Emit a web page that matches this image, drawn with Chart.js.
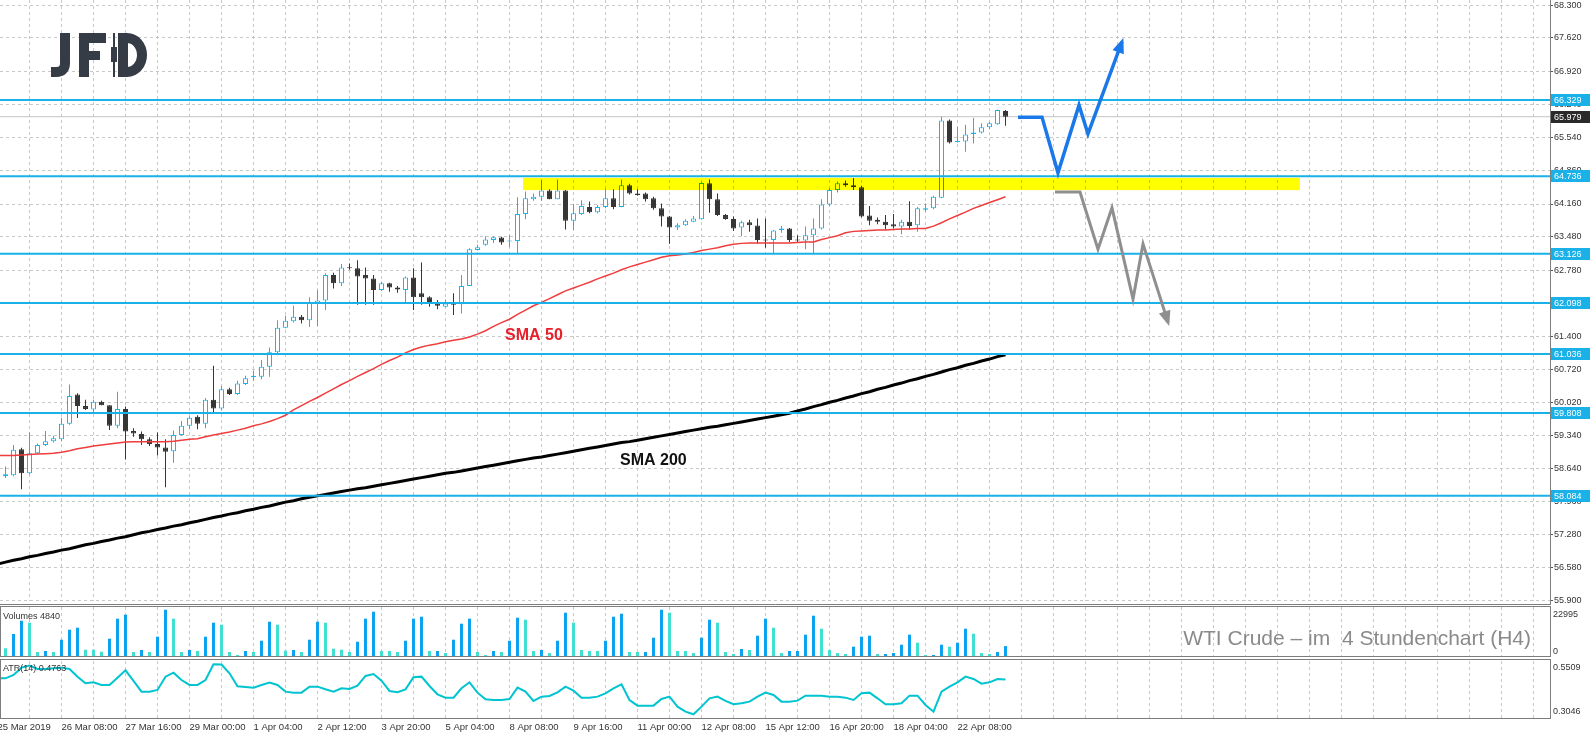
<!DOCTYPE html>
<html>
<head>
<meta charset="utf-8">
<title>WTI Crude H4</title>
<script src="https://cdn.jsdelivr.net/npm/chart.js@4.4.1/dist/chart.umd.min.js"></script>
<style>
  html, body { margin: 0; padding: 0; background: #fff; }
  body { width: 1590px; height: 738px; position: relative; overflow: hidden; }
  canvas { position: absolute; left: 0; }
  #main { top: 0; }
  #vol { top: 605px; }
  #atr { top: 658px; }
</style>
</head>
<body>
<canvas id="main" width="1590" height="605"></canvas>
<canvas id="vol" width="1590" height="53"></canvas>
<canvas id="atr" width="1590" height="80"></canvas>
<script>
// ---- price data (H4 candles, 25 Mar - 22 Apr 2019) ----
const opens = [58.49,58.51,59.05,58.55,58.97,59.14,59.22,59.26,59.58,60.19,
  59.95,59.88,60.04,59.97,59.54,59.89,59.43,59.37,59.26,59.16,
  59.09,59.01,59.35,59.54,59.73,59.58,60.08,59.90,60.30,60.20,
  60.41,60.55,60.56,60.77,61.07,61.58,61.72,61.81,61.74,62.10,
  62.15,62.68,62.51,62.83,62.82,62.68,62.61,62.37,62.51,62.42,
  62.37,62.63,62.30,62.22,62.10,62.02,62.09,62.07,62.45,63.20,
  63.31,63.41,63.46,63.38,63.39,63.95,64.26,64.31,64.44,64.26,
  64.44,63.81,63.95,64.10,63.99,64.10,64.28,64.10,64.55,64.38,
  64.38,64.28,64.07,63.90,63.67,63.72,63.79,63.84,64.59,64.26,
  63.93,63.85,63.67,63.78,63.71,63.42,63.41,63.62,63.65,63.42,
  63.40,63.51,63.65,64.15,64.45,64.59,64.55,64.51,63.92,63.83,
  63.79,63.74,63.69,63.79,63.72,64.04,64.07,64.29,65.90,65.45,
  65.46,65.62,65.65,65.76,65.82,66.10];
const highs = [58.69,59.14,59.08,59.40,59.17,59.43,59.33,59.70,60.40,60.22,
  60.08,60.08,60.06,59.97,60.25,59.94,59.49,59.42,59.30,59.40,
  59.26,59.44,59.64,59.74,59.76,60.12,60.79,60.37,60.33,60.48,
  60.58,60.69,60.91,61.17,61.74,61.83,62.04,61.85,62.22,62.37,
  62.72,62.73,62.91,62.92,62.99,62.84,62.68,62.54,62.52,62.45,
  62.65,62.82,62.94,62.24,62.16,62.17,62.30,62.68,63.24,63.31,
  63.49,63.49,63.48,63.51,64.30,64.42,64.38,64.67,64.47,64.67,
  64.45,64.16,64.24,64.21,64.14,64.47,64.47,64.67,64.58,64.47,
  64.40,64.31,64.17,63.91,63.76,63.84,63.91,64.62,64.67,64.38,
  63.95,63.90,63.81,63.83,63.86,63.86,63.62,63.70,63.66,63.51,
  63.69,63.86,64.26,64.49,64.63,64.65,64.70,64.54,64.12,63.88,
  63.93,63.95,63.83,64.22,64.10,64.17,64.33,65.98,65.92,65.77,
  65.81,65.95,65.84,65.87,66.13,66.12];
const lows = [58.45,58.49,58.22,58.53,58.95,59.12,59.19,59.22,59.56,59.70,
  59.87,59.81,59.97,59.45,59.49,58.84,59.31,59.14,59.12,58.92,
  58.26,58.77,59.33,59.47,59.47,59.49,59.79,59.87,60.18,60.18,
  60.39,60.48,60.51,60.56,61.01,61.57,61.69,61.67,61.60,61.62,
  61.95,62.40,62.45,62.79,62.06,62.06,62.06,62.35,62.33,62.31,
  62.09,61.95,62.06,62.02,61.97,62.01,61.85,61.88,62.45,63.19,
  63.29,63.35,63.31,63.26,63.13,63.84,64.23,64.23,64.26,64.26,
  63.63,63.62,63.93,63.97,63.97,64.07,64.05,64.09,64.36,64.33,
  64.21,64.04,63.69,63.33,63.62,63.70,63.78,63.83,63.98,63.91,
  63.83,63.60,63.49,63.58,63.34,63.25,63.12,63.56,63.37,63.35,
  63.22,63.13,63.63,64.12,64.40,64.52,64.45,63.88,63.72,63.74,
  63.63,63.65,63.53,63.63,63.58,64.00,64.05,64.28,65.42,65.44,
  65.25,65.42,65.63,65.72,65.81,65.79];
const closes = [58.53,59.04,58.55,58.97,59.14,59.22,59.28,59.58,60.16,59.95,
  59.89,60.04,59.97,59.54,59.89,59.42,59.38,59.26,59.16,59.09,
  59.00,59.35,59.54,59.71,59.58,60.08,59.90,60.30,60.20,60.42,
  60.53,60.58,60.77,61.07,61.58,61.73,61.81,61.74,62.10,62.15,
  62.68,62.51,62.84,62.82,62.65,62.61,62.37,62.51,62.42,62.38,
  62.63,62.22,62.22,62.09,62.04,62.09,62.06,62.45,63.22,63.26,
  63.42,63.47,63.36,63.40,63.95,64.28,64.31,64.44,64.26,64.44,
  63.81,63.97,64.12,63.99,64.10,64.28,64.10,64.55,64.38,64.35,
  64.26,64.07,63.90,63.67,63.72,63.81,63.86,64.60,64.26,63.93,
  63.85,63.65,63.78,63.72,63.41,63.40,63.61,63.65,63.41,63.40,
  63.51,63.65,64.15,64.45,64.59,64.55,64.51,63.90,63.81,63.79,
  63.72,63.69,63.79,63.70,64.07,64.07,64.31,65.90,65.44,65.46,
  65.61,65.65,65.76,65.84,66.12,65.979];

// indicator series start one bar earlier (index -1, the bar cut off at the left edge)
const sma50 = [58.92,58.92,58.92,58.93,58.94,58.95,58.96,58.97,58.99,59.02,59.06,
  59.09,59.12,59.14,59.16,59.18,59.20,59.21,59.21,59.21,59.21,
  59.21,59.22,59.24,59.26,59.27,59.31,59.35,59.38,59.41,59.45,
  59.49,59.54,59.58,59.63,59.69,59.76,59.87,59.96,60.05,60.13,
  60.22,60.31,60.40,60.48,60.57,60.65,60.73,60.82,60.90,60.97,
  61.06,61.13,61.18,61.22,61.25,61.29,61.32,61.35,61.39,61.45,
  61.52,61.61,61.69,61.76,61.86,61.95,62.04,62.11,62.19,62.27,
  62.35,62.41,62.47,62.53,62.60,62.66,62.72,62.79,62.85,62.90,
  62.95,63.00,63.05,63.08,63.10,63.12,63.15,63.19,63.22,63.25,
  63.29,63.32,63.34,63.35,63.35,63.35,63.35,63.35,63.35,63.36,
  63.37,63.37,63.42,63.46,63.50,63.56,63.59,63.60,63.61,63.62,
  63.62,63.63,63.64,63.64,63.65,63.65,63.70,63.77,63.85,63.92,
  63.99,64.07,64.13,64.19,64.25,64.31];
const sma200 = [56.66,56.70,56.74,56.77,56.81,56.84,56.88,56.91,56.95,56.98,57.02,
  57.06,57.09,57.13,57.16,57.20,57.23,57.27,57.31,57.34,57.38,
  57.41,57.45,57.48,57.52,57.55,57.59,57.63,57.66,57.70,57.73,
  57.77,57.80,57.84,57.87,57.91,57.95,57.98,58.02,58.05,58.08,
  58.11,58.14,58.17,58.20,58.23,58.25,58.28,58.31,58.34,58.37,
  58.40,58.43,58.46,58.49,58.52,58.55,58.57,58.60,58.63,58.66,
  58.69,58.72,58.75,58.78,58.81,58.84,58.87,58.89,58.92,58.95,
  58.98,59.01,59.04,59.07,59.10,59.13,59.16,59.19,59.21,59.24,
  59.27,59.30,59.33,59.36,59.39,59.42,59.45,59.48,59.51,59.53,
  59.56,59.59,59.62,59.65,59.68,59.71,59.74,59.77,59.80,59.85,
  59.89,59.94,59.98,60.03,60.07,60.12,60.16,60.21,60.25,60.30,
  60.34,60.39,60.43,60.48,60.52,60.57,60.61,60.66,60.71,60.75,
  60.80,60.84,60.89,60.93,60.98,61.02];
const atr = [0.4819,0.4819,0.4984,0.5345,0.5443,0.5279,0.5279,0.5312,0.5345,0.5279,0.4901,
  0.4573,0.4622,0.4491,0.4491,0.4852,0.5213,0.4688,0.4163,0.4163,0.4245,
  0.4901,0.5098,0.4737,0.4491,0.4491,0.4737,0.5509,0.5495,0.5066,0.4425,
  0.4392,0.4360,0.4491,0.4606,0.4491,0.4163,0.4113,0.4113,0.4409,0.4409,
  0.4277,0.4163,0.4327,0.4294,0.4458,0.4934,0.5033,0.4704,0.4195,0.4130,
  0.4277,0.4869,0.4901,0.4442,0.4031,0.3867,0.3867,0.4327,0.4622,0.4113,
  0.3785,0.3752,0.3752,0.3801,0.4360,0.4163,0.3703,0.3916,0.3949,0.4130,
  0.4409,0.4212,0.3867,0.3867,0.3916,0.4080,0.4327,0.4524,0.3752,0.3473,
  0.3473,0.3473,0.3801,0.3916,0.3424,0.3177,0.3046,0.3424,0.3834,0.3916,
  0.3703,0.3539,0.3588,0.3670,0.3916,0.4113,0.3998,0.3670,0.3670,0.3719,
  0.3965,0.3965,0.3965,0.3916,0.3916,0.3867,0.3752,0.4080,0.4113,0.3834,
  0.3539,0.3539,0.3588,0.3965,0.3965,0.3506,0.3177,0.4163,0.4409,0.4622,
  0.4901,0.4787,0.4557,0.4622,0.4787,0.4763];
const indFirst = -1;

const volumes = [3770,10760,17260,16280,1960,2450,1960,7970,12860,13840,
  3080,3050,2100,8460,18240,20200,1960,2930,1960,9440,
  22640,18240,1960,2930,2450,9440,16280,15310,1960,490,
  2450,1960,7480,16770,15310,2590,2930,1960,7970,16770,
  16280,3570,3080,1960,6990,18240,21660,2450,2440,1960,
  7480,18240,19220,2450,2460,1470,7970,15790,18240,1960,
  490,2450,1960,7480,18730,17750,2450,2930,1470,7480,
  21170,16280,2930,2450,2440,7480,19220,20680,1960,1950,
  1970,8950,22640,21170,2450,2440,1470,8950,17750,16280,
  1960,980,3420,2930,9930,18240,13840,1470,2450,2460,
  10420,19710,13350,2930,1470,980,4550,9440,9930,980,
  990,1470,5530,10420,6500,490,500,5530,4550,6500,
  13350,10900,1470,980,1960,4840];

// horizontal support / resistance lines and the bid line
const levels = [66.329, 64.736, 63.126, 62.098, 61.036, 59.808, 58.084];
const lastPrice = 65.979;

// price axis ticks
const priceTicks = [68.300, 67.620, 66.920, 66.240, 65.540, 64.860, 64.160, 63.480, 62.780,
  62.100, 61.400, 60.720, 60.020, 59.340, 58.640, 57.960, 57.280, 56.580, 55.900];

// time axis labels, by candle index
const timeLabelIdx = [-1, 7, 15, 23, 31, 39, 47, 55, 63, 71, 79, 87, 95, 103, 111, 119];
const timeLabels = ['25 Mar 2019', '26 Mar 08:00', '27 Mar 16:00', '29 Mar 00:00', '1 Apr 04:00',
  '2 Apr 12:00', '3 Apr 20:00', '5 Apr 04:00', '8 Apr 08:00', '9 Apr 16:00', '11 Apr 00:00',
  '12 Apr 08:00', '15 Apr 12:00', '16 Apr 20:00', '18 Apr 04:00', '22 Apr 08:00'];

// drawn scenario arrows (candle index, price)
const upArrowX = [126.56, 129.56, 131.56, 134.19, 135.31, 139.56];
const upArrowY = [65.97, 65.97, 64.81, 66.22, 65.62, 67.54];
const downArrowX = [131.19, 134.31, 136.56, 138.31, 140.94, 142.19, 145.31];
const downArrowY = [64.41, 64.41, 63.22, 64.08, 62.18, 63.33, 61.70];

// yellow resistance zone
const zoneX = [64.69, 161.8];
const zoneY = [64.45, 64.705];

const volAxisTop = 22995;

// ---- look ----
const FONT = '"Liberation Sans", Arial, sans-serif';
const GRID = '#c8c8c8';
const FRAME = '#7d7d7d';
const BULL = '#1cb4ea';
const BEAR = '#363636';
const LEVEL = '#1ab0e8';
const VOL_UP = '#0ba3ef';
const VOL_DN = '#3fe0cf';

Chart.defaults.font.family = FONT;

const X_MIN = -0.6875;            // candle i sits at 8*i + 5.5 px
const X_MAX = X_MIN + 1550 / 8;   // 8 px per candle across the plot

const gridIdx = [];
for (let v = -1; v <= 191; v += 4) gridIdx.push(v);
const labelAt = new Map(timeLabelIdx.map((v, k) => [v, timeLabels[k]]));

const idx = closes.map((_, i) => i);
const isUp = idx.map(i => closes[i] >= opens[i]);
const indPoints = arr => arr.map((v, k) => ({ x: indFirst + k, y: v }));

function timeAxis(withLabels) {
  return {
    type: 'linear', min: X_MIN, max: X_MAX, offset: false,
    afterBuildTicks: s => { s.ticks = gridIdx.map(v => ({ value: v })); },
    afterFit: s => { s.height = withLabels ? 20 : 0; s.paddingLeft = 0; s.paddingRight = 0; },
    grid: { offset: false, color: GRID, lineWidth: 1, drawTicks: false },
    border: { display: false, dash: [3, 3] },
    ticks: withLabels
      ? { autoSkip: false, maxRotation: 0, minRotation: 0, align: 'start', padding: 4,
          color: '#333', font: { family: FONT, size: 9.5 }, callback: v => labelAt.get(v) ?? '' }
      : { display: false }
  };
}

function sideAxis(min, max) {
  return {
    position: 'right', min, max,
    afterFit: s => { s.width = 40; s.paddingTop = 0; s.paddingBottom = 0; },
    grid: { display: false },
    border: { display: false },
    ticks: { display: false }
  };
}

function line(data, color, width, order) {
  return { type: 'line', data, borderColor: color, borderWidth: width, pointRadius: 0,
    tension: 0, fill: false, order };
}

function arrowHead(ctx, x0, y0, x1, y1, color) {
  const ang = Math.atan2(y1 - y0, x1 - x0);
  ctx.save();
  ctx.translate(x1, y1);
  ctx.rotate(ang);
  ctx.fillStyle = color;
  ctx.beginPath();
  ctx.moveTo(4, 0);
  ctx.lineTo(-11, -6);
  ctx.lineTo(-11, 6);
  ctx.closePath();
  ctx.fill();
  ctx.restore();
}

function priceBox(ctx, x, py, text, color) {
  const yy = Math.round(py);
  ctx.fillStyle = color;
  ctx.fillRect(x, yy - 6, 39, 12);
  ctx.fillStyle = '#fff';
  ctx.font = '9px ' + FONT;
  ctx.textAlign = 'left';
  ctx.textBaseline = 'middle';
  ctx.fillText(text, x + 3, yy + 0.5);
}

function drawLogo(ctx) {
  ctx.save();
  ctx.fillStyle = ctx.strokeStyle = '#363c46';
  ctx.lineWidth = 10;
  ctx.beginPath();
  ctx.moveTo(65, 33); ctx.lineTo(65, 63);
  ctx.quadraticCurveTo(65, 72, 56, 72); ctx.lineTo(51, 72);
  ctx.stroke();
  ctx.fillRect(79, 33, 10, 44);
  ctx.fillRect(79, 33, 27, 10);
  ctx.fillRect(79, 51, 21, 9);
  ctx.fillRect(113, 33, 2, 44);
  ctx.fillRect(111, 47, 6, 15);
  ctx.beginPath();
  ctx.moveTo(123, 38); ctx.lineTo(127, 38);
  ctx.ellipse(127, 55, 15, 17, 0, -Math.PI / 2, Math.PI / 2);
  ctx.lineTo(123, 72); ctx.closePath();
  ctx.stroke();
  ctx.restore();
}

// ---- main price panel ----
const mainDecor = {
  id: 'mainDecor',
  afterDatasetsDraw(chart) {
    const { ctx, chartArea: a, scales: { x, y } } = chart;
    ctx.save();
    ctx.beginPath();
    ctx.rect(a.left, a.top, a.right - a.left, a.bottom - a.top);
    ctx.clip();
    ctx.globalCompositeOperation = 'multiply';
    ctx.fillStyle = '#ffff00';
    const zx0 = x.getPixelForValue(zoneX[0]), zx1 = x.getPixelForValue(zoneX[1]);
    const zy0 = y.getPixelForValue(zoneY[1]), zy1 = y.getPixelForValue(zoneY[0]);
    ctx.fillRect(zx0, zy0, zx1 - zx0, zy1 - zy0);
    ctx.restore();

    const n1 = upArrowX.length - 1, n2 = downArrowX.length - 1;
    arrowHead(ctx, x.getPixelForValue(upArrowX[n1 - 1]), y.getPixelForValue(upArrowY[n1 - 1]),
      x.getPixelForValue(upArrowX[n1]), y.getPixelForValue(upArrowY[n1]), '#1a78e8');
    arrowHead(ctx, x.getPixelForValue(downArrowX[n2 - 1]), y.getPixelForValue(downArrowY[n2 - 1]),
      x.getPixelForValue(downArrowX[n2]), y.getPixelForValue(downArrowY[n2]), '#8f8f8f');
  },
  afterDraw(chart) {
    const { ctx, chartArea: a, scales: { y } } = chart;
    ctx.save();
    levels.forEach(v => priceBox(ctx, a.right + 1, y.getPixelForValue(v), v.toFixed(3), LEVEL));
    priceBox(ctx, a.right + 1, y.getPixelForValue(lastPrice), lastPrice.toFixed(3), '#2a2a2a');

    ctx.strokeStyle = FRAME;
    ctx.lineWidth = 1;
    ctx.beginPath();
    ctx.moveTo(a.right + 0.5, 0); ctx.lineTo(a.right + 0.5, a.bottom + 4);
    ctx.moveTo(0, a.bottom + 3.5); ctx.lineTo(a.right + 0.5, a.bottom + 3.5);
    ctx.stroke();

    ctx.font = 'bold 16px ' + FONT;
    ctx.textAlign = 'left';
    ctx.textBaseline = 'alphabetic';
    ctx.fillStyle = '#e8202a';
    ctx.fillText('SMA 50', 505, 339.5);
    ctx.fillStyle = '#111';
    ctx.fillText('SMA 200', 620, 464.5);
    ctx.restore();
    drawLogo(ctx);
  }
};

new Chart(document.getElementById('main'), {
  type: 'bar',
  data: {
    datasets: [
      line(upArrowX.map((v, i) => ({ x: v, y: upArrowY[i] })), '#1a78e8', 3.5, 0),
      line(downArrowX.map((v, i) => ({ x: v, y: downArrowY[i] })), '#8f8f8f', 3, 0),
      ...levels.map(v => line([{ x: X_MIN, y: v }, { x: X_MAX, y: v }], LEVEL, 2, 2)),
      line(indPoints(sma50), '#f03c3c', 1.5, 3),
      line(indPoints(sma200), '#000000', 3, 3),
      {
        type: 'bar', order: 5, grouped: false,
        data: idx.map(i => ({ x: i, y: [opens[i], closes[i]] })),
        backgroundColor: isUp.map(u => u ? '#ffffff' : BEAR),
        borderColor: isUp.map(u => u ? BULL : BEAR),
        borderWidth: 1, borderSkipped: false, barThickness: 5, minBarLength: 1, inflateAmount: 0
      },
      {
        type: 'bar', order: 6, grouped: false,
        data: idx.map(i => ({ x: i, y: [lows[i], highs[i]] })),
        backgroundColor: isUp.map(u => u ? BULL : BEAR),
        borderWidth: 0, barThickness: 1, inflateAmount: 0
      },
      line([{ x: X_MIN, y: lastPrice }, { x: X_MAX, y: lastPrice }], '#c4c4c4', 1, 9)
    ]
  },
  options: {
    responsive: false, animation: false, devicePixelRatio: 1, events: [],
    layout: { padding: { left: 0, right: 0, top: 0, bottom: 4 } },
    plugins: { legend: { display: false }, tooltip: { enabled: false } },
    scales: {
      x: timeAxis(false),
      y: {
        position: 'right', min: 55.89, max: 68.41,
        afterBuildTicks: s => { s.ticks = priceTicks.map(v => ({ value: v })); },
        afterFit: s => { s.width = 40; s.paddingTop = 0; s.paddingBottom = 0; },
        grid: { color: GRID, drawTicks: true, tickLength: 3, tickColor: '#555', tickBorderDash: [] },
        border: { display: false, dash: [3, 3] },
        ticks: { padding: 1, color: '#333', font: { family: FONT, size: 9 }, callback: v => v.toFixed(3) }
      }
    }
  },
  plugins: [mainDecor]
});

// ---- volume panel ----
const volDecor = {
  id: 'volDecor',
  afterDraw(chart) {
    const { ctx, chartArea: a } = chart;
    ctx.save();
    ctx.strokeStyle = FRAME;
    ctx.lineWidth = 1;
    ctx.strokeRect(0.5, a.top - 0.5, a.right, a.bottom - a.top + 1);
    ctx.font = '9px ' + FONT;
    ctx.fillStyle = '#333';
    ctx.textAlign = 'left';
    ctx.textBaseline = 'top';
    ctx.fillText('Volumes ' + volumes[volumes.length - 1], 3, a.top + 5);
    ctx.fillText(String(volAxisTop), a.right + 3, a.top + 3);
    ctx.textBaseline = 'bottom';
    ctx.fillText('0', a.right + 3, a.bottom);
    ctx.font = '21px ' + FONT;
    ctx.fillStyle = '#8a8a8a';
    ctx.textAlign = 'right';
    ctx.textBaseline = 'alphabetic';
    ctx.fillText('WTI Crude \u2013 im  4 Stundenchart (H4)', 1531, a.top + 38);
    ctx.restore();
  }
};

new Chart(document.getElementById('vol'), {
  type: 'bar',
  data: {
    datasets: [{
      data: idx.map(i => ({ x: i, y: volumes[i] })),
      backgroundColor: volumes.map((v, i) => (i > 0 && v > volumes[i - 1]) ? VOL_UP : VOL_DN),
      borderWidth: 0, barThickness: 3, inflateAmount: 0, grouped: false
    }]
  },
  options: {
    responsive: false, animation: false, devicePixelRatio: 1, events: [],
    layout: { padding: { left: 0, right: 0, top: 2, bottom: 2 } },
    plugins: { legend: { display: false }, tooltip: { enabled: false } },
    scales: { x: timeAxis(false), y: sideAxis(0, 23960) }
  },
  plugins: [volDecor]
});

// ---- ATR panel ----
const atrDecor = {
  id: 'atrDecor',
  afterDraw(chart) {
    const { ctx, chartArea: a } = chart;
    ctx.save();
    ctx.strokeStyle = FRAME;
    ctx.lineWidth = 1;
    ctx.strokeRect(0.5, a.top - 1.5, a.right, a.bottom - a.top + 2);
    ctx.font = '9px ' + FONT;
    ctx.fillStyle = '#333';
    ctx.textAlign = 'left';
    ctx.textBaseline = 'top';
    ctx.fillText('ATR(14) ' + atr[atr.length - 1].toFixed(4), 3, a.top + 3);
    ctx.fillText(Math.max(...atr).toFixed(4), a.right + 3, a.top + 2);
    ctx.textBaseline = 'bottom';
    ctx.fillText(Math.min(...atr).toFixed(4), a.right + 3, a.bottom - 2);
    ctx.restore();
  }
};

new Chart(document.getElementById('atr'), {
  type: 'line',
  data: {
    datasets: [line(indPoints(atr), '#00c4d0', 2, 0)]
  },
  options: {
    responsive: false, animation: false, devicePixelRatio: 1, events: [],
    layout: { padding: { left: 0, right: 0, top: 3, bottom: 0 } },
    plugins: { legend: { display: false }, tooltip: { enabled: false } },
    scales: { x: timeAxis(true), y: sideAxis(0.2864, 0.5672) }
  },
  plugins: [atrDecor]
});
</script>
</body>
</html>
